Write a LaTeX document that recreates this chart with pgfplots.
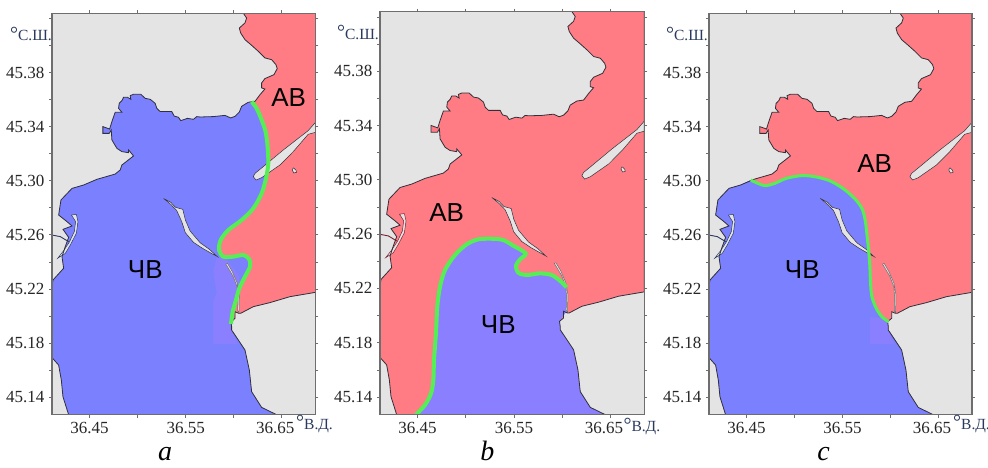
\documentclass[border=0pt]{standalone}
\usepackage{fontspec}
\usepackage{pgfplots}
\usepackage{pgfplotstable}
\pgfplotsset{compat=1.18}
\setmainfont{Liberation Serif}
\newfontfamily\lsans{Liberation Sans}
\definecolor{land}{HTML}{E4E4E4}
\definecolor{cblue}{HTML}{7B80FF}
\definecolor{cpurple}{HTML}{8A80FF}
\definecolor{cred}{HTML}{FF7C85}
\definecolor{cgreen}{HTML}{55EE55}
\definecolor{frame}{HTML}{6E6E6E}
\definecolor{dark}{HTML}{30303A}
\definecolor{navy}{HTML}{2A3A5F}
\definecolor{wine}{HTML}{7A2030}

\pgfplotstableread{
lon lat
36.6100 45.4239
36.6134 45.4204
36.6117 45.4168
36.6058 45.4130
36.6072 45.4093
36.6117 45.4044
36.6186 45.4002
36.6255 45.3958
36.6324 45.3909
36.6394 45.3896
36.6439 45.3859
36.6452 45.3830
36.6418 45.3785
36.6324 45.3756
36.6290 45.3724
36.6290 45.3687
36.6324 45.3679
36.6273 45.3637
36.6221 45.3588
36.6151 45.3581
36.6082 45.3551
36.6058 45.3509
36.6013 45.3477
36.5968 45.3465
36.5909 45.3484
36.5788 45.3475
36.5650 45.3472
36.5615 45.3475
36.5581 45.3455
36.5518 45.3462
36.5449 45.3445
36.5425 45.3470
36.5380 45.3479
36.5356 45.3512
36.5235 45.3512
36.5200 45.3536
36.5183 45.3573
36.5131 45.3603
36.5079 45.3610
36.5034 45.3640
36.4958 45.3640
36.4923 45.3630
36.4930 45.3603
36.4895 45.3618
36.4854 45.3618
36.4837 45.3593
36.4809 45.3573
36.4802 45.3536
36.4837 45.3507
36.4767 45.3507
36.4733 45.3438
36.4709 45.3383
36.4639 45.3401
36.4639 45.3351
36.4705 45.3351
36.4726 45.3376
36.4733 45.3302
36.4785 45.3240
36.4837 45.3216
36.4906 45.3208
36.4906 45.3228
36.4958 45.3184
36.4837 45.3117
36.4819 45.3080
36.4767 45.3050
36.4577 45.3011
36.4439 45.2969
36.4318 45.2944
36.4203 45.2858
36.4179 45.2747
36.4266 45.2698
36.4318 45.2666
36.4224 45.2641
36.4283 45.2582
36.4248 45.2513
36.4214 45.2439
36.4231 45.2353
36.4120 45.2266
36.4110 45.2217
36.4110 45.1692
36.4179 45.1637
36.4207 45.1526
36.4224 45.1403
36.4283 45.1270
36.6446 45.1270
36.6290 45.1324
36.6186 45.1440
36.6162 45.1600
36.6117 45.1748
36.6048 45.1822
36.5978 45.1896
36.5978 45.1921
36.5971 45.1958
36.6013 45.1983
36.6013 45.2032
36.6051 45.2020
36.6072 45.2020
36.6203 45.2069
36.6376 45.2099
36.6584 45.2143
36.6850 45.2175
36.6850 45.4239
}\coast

\pgfplotstableread{
lon lat
36.5269 45.2870
36.5345 45.2841
36.5394 45.2804
36.5470 45.2789
36.5497 45.2710
36.5546 45.2629
36.5650 45.2542
36.5747 45.2493
36.5830 45.2439
36.5736 45.2476
36.5677 45.2500
36.5581 45.2545
36.5497 45.2616
36.5459 45.2698
36.5408 45.2779
36.5345 45.2826
36.5269 45.2870
}\spitC

\pgfplotstableread{
lon lat
36.5916 45.2385
36.5935 45.2389
36.5985 45.2328
36.6037 45.2242
36.6058 45.2155
36.6054 45.2025
36.6040 45.2039
36.6044 45.2143
36.6035 45.2217
36.5992 45.2296
36.5930 45.2370
36.5916 45.2385
}\spitS

\pgfplotstableread{
lon lat
36.4311 45.2747
36.4363 45.2752
36.4380 45.2698
36.4363 45.2611
36.4300 45.2525
36.4248 45.2463
36.4169 45.2427
36.4231 45.2483
36.4293 45.2550
36.4342 45.2624
36.4356 45.2698
36.4328 45.2730
36.4311 45.2747
}\spitW

\pgfplotstableread{
lon lat
36.6850 45.3433
36.6774 45.3371
36.6515 45.3228
36.6307 45.3105
36.6221 45.3055
36.6203 45.3031
36.6231 45.3006
36.6290 45.3023
36.6480 45.3117
36.6619 45.3216
36.6774 45.3344
36.6850 45.3359
}\spitE

\pgfplotstableread{
lon lat
36.6619 45.3097
36.6646 45.3080
36.6653 45.3063
36.6625 45.3058
36.6608 45.3080
36.6619 45.3097
}\isle

\pgfplotstableread{
lon lat
36.4110 45.2599
36.4197 45.2587
36.4283 45.2550
}\wline

% panel a
\pgfplotstableread{
lon lat
36.6186 45.3586
36.6238 45.3536
36.6290 45.3450
36.6331 45.3364
36.6352 45.3253
36.6359 45.3129
36.6335 45.3018
36.6290 45.2907
36.6203 45.2796
36.6082 45.2710
36.5944 45.2636
36.5864 45.2562
36.5847 45.2488
36.5892 45.2439
36.5996 45.2439
36.6100 45.2451
36.6162 45.2419
36.6169 45.2365
36.6117 45.2291
36.6058 45.2205
36.6023 45.2118
36.5989 45.2032
36.5971 45.1941
}\greenA

\pgfplotstableread{
lon lat
36.6100 45.4239
36.6134 45.4204
36.6117 45.4168
36.6058 45.4130
36.6072 45.4093
36.6117 45.4044
36.6186 45.4002
36.6255 45.3958
36.6324 45.3909
36.6394 45.3896
36.6439 45.3859
36.6452 45.3830
36.6418 45.3785
36.6324 45.3756
36.6290 45.3724
36.6290 45.3687
36.6324 45.3679
36.6273 45.3637
36.6221 45.3588
36.6186 45.3586
36.6238 45.3536
36.6290 45.3450
36.6331 45.3364
36.6352 45.3253
36.6359 45.3129
36.6335 45.3018
36.6290 45.2907
36.6203 45.2796
36.6082 45.2710
36.5944 45.2636
36.5864 45.2562
36.5847 45.2488
36.5892 45.2439
36.5996 45.2439
36.6100 45.2451
36.6162 45.2419
36.6169 45.2365
36.6117 45.2291
36.6058 45.2205
36.6023 45.2118
36.5989 45.2032
36.5971 45.1941
36.6013 45.1983
36.6013 45.2032
36.6051 45.2020
36.6072 45.2020
36.6203 45.2069
36.6376 45.2099
36.6584 45.2143
36.6850 45.2175
36.6850 45.4239
}\redA

% panel b
\pgfplotstableread{
lon lat
36.4483 45.1270
36.4576 45.1341
36.4639 45.1427
36.4663 45.1525
36.4670 45.1672
36.4690 45.1869
36.4704 45.2065
36.4732 45.2213
36.4784 45.2336
36.4887 45.2446
36.5008 45.2525
36.5129 45.2562
36.5285 45.2566
36.5388 45.2557
36.5492 45.2515
36.5620 45.2458
36.5561 45.2414
36.5520 45.2368
36.5544 45.2316
36.5630 45.2299
36.5768 45.2311
36.5889 45.2299
36.5976 45.2257
36.6045 45.2208
}\greenB

\pgfplotstableread{
lon lat
36.4483 45.1270
36.4576 45.1341
36.4639 45.1427
36.4663 45.1525
36.4670 45.1672
36.4690 45.1869
36.4704 45.2065
36.4732 45.2213
36.4784 45.2336
36.4887 45.2446
36.5008 45.2525
36.5129 45.2562
36.5285 45.2566
36.5388 45.2557
36.5492 45.2515
36.5620 45.2458
36.5561 45.2414
36.5520 45.2368
36.5544 45.2316
36.5630 45.2299
36.5768 45.2311
36.5889 45.2299
36.5976 45.2257
36.6045 45.2208
36.6054 45.2155
36.6054 45.2040
36.6013 45.2000
36.5971 45.1958
36.5978 45.1921
36.5978 45.1896
36.6048 45.1822
36.6117 45.1748
36.6162 45.1600
36.6186 45.1440
36.6290 45.1324
36.6446 45.1270
}\blueB

% panel c
\pgfplotstableread{
lon lat
36.4544 45.3006
36.4620 45.2981
36.4696 45.2964
36.4794 45.2981
36.4915 45.3018
36.5071 45.3038
36.5210 45.3031
36.5366 45.3001
36.5505 45.2944
36.5626 45.2870
36.5703 45.2796
36.5737 45.2710
36.5758 45.2587
36.5776 45.2463
36.5786 45.2365
36.5793 45.2242
36.5807 45.2143
36.5852 45.2057
36.5911 45.1995
36.5980 45.1958
}\greenC

\pgfplotstableread{
lon lat
36.4544 45.3006
36.4620 45.2981
36.4696 45.2964
36.4794 45.2981
36.4915 45.3018
36.5071 45.3038
36.5210 45.3031
36.5366 45.3001
36.5505 45.2944
36.5626 45.2870
36.5703 45.2796
36.5737 45.2710
36.5758 45.2587
36.5776 45.2463
36.5786 45.2365
36.5793 45.2242
36.5807 45.2143
36.5852 45.2057
36.5911 45.1995
36.5980 45.1958
36.5971 45.1958
36.5978 45.1921
36.5978 45.1896
36.6048 45.1822
36.6117 45.1748
36.6162 45.1600
36.6186 45.1440
36.6290 45.1324
36.6446 45.1270
36.4283 45.1270
36.4224 45.1403
36.4207 45.1526
36.4179 45.1637
36.4110 45.1692
36.4110 45.2217
36.4120 45.2266
36.4231 45.2353
36.4214 45.2439
36.4248 45.2513
36.4283 45.2582
36.4224 45.2641
36.4318 45.2666
36.4266 45.2698
36.4179 45.2747
36.4203 45.2858
36.4318 45.2944
36.4439 45.2969
36.4544 45.3006
}\blueC

\newcommand{\tl}[1]{\mbox{\fontsize{17}{17}\selectfont\rmfamily\color{black!85}#1}}
\pgfplotsset{
  mapaxis/.style={
    scale only axis, anchor=south west, axis on top, no markers,
    xmin=36.411, xmax=36.685, ymin=45.127, ymax=45.4239,
    axis background/.style={fill=land},
    axis line style={draw=frame, line width=1.5pt},
    tick align=outside,
    tick style={draw=frame, line width=0.8pt},
    major tick length=3pt, minor tick length=3pt,
    xtick={36.45,36.55,36.65},
    xticklabels={\tl{36.45},\tl{36.55},\tl{36.65\kern13pt}},
    minor xtick={36.50,36.60},
    ytick={45.14,45.18,45.22,45.26,45.30,45.34,45.38},
    yticklabels={\tl{45.14},\tl{45.18},\tl{45.22},\tl{45.26},\tl{45.30},\tl{45.34},\tl{45.38}},
    minor ytick={45.16,45.20,45.24,45.28,45.32,45.36,45.40,45.42},
    ylabel=, xlabel=,
    y tick label style={xshift=-1pt},
    x tick label style={yshift=-1pt},
  },
  coastline/.style={draw=dark, line width=0.8pt, fill=none},
  spit/.style={fill=land, draw=dark, line width=0.5pt},
  front/.style={draw=cgreen, line width=#1, smooth, fill=none},
}
\newcommand{\wlab}[1]{\node[text=black, font=\lsans\fontsize{26}{26}\selectfont] at #1}
\newcommand{\coord}[1]{\node[text=navy, font=\fontsize{15.5}{16}\selectfont, inner sep=0pt] at #1}
\newcommand{\dg}{\raisebox{0.5pt}{\fontsize{20}{20}\selectfont °}}

\begin{document}
\begin{tikzpicture}[x=1pt,y=1pt]
\path[use as bounding box] (0,0) rectangle (988,467);

% ---------- a
\begin{axis}[mapaxis, at={(52pt,52.3pt)}, width=263.5pt, height=401.4pt]
\addplot[fill=cblue, draw=none] table {\coast};
\addplot[fill=cpurple, draw=none] coordinates {(36.5823,45.2439) (36.5788,45.2328) (36.5823,45.2168) (36.5788,45.2118) (36.5788,45.1793) (36.6037,45.1793) (36.5978,45.1896) (36.5971,45.1941) (36.6023,45.2118) (36.6058,45.2205) (36.6050,45.2300) (36.5900,45.2439)};
\addplot[fill=cred, draw=none] table {\redA};
\addplot[spit] table {\spitC};
\addplot[spit, draw=frame] table {\spitS};
\addplot[spit, draw=navy] table {\spitW};
\addplot[spit] table {\spitE};
\addplot[spit] table {\isle};
\addplot[draw=navy, line width=0.9pt] table {\wline};
\addplot[coastline] table {\coast};
\addplot[front=4pt] table {\greenA};
\end{axis}

% ---------- b
\begin{axis}[mapaxis, at={(380pt,52.3pt)}, width=264.3pt, height=403pt]
\addplot[fill=cred, draw=none] table {\coast};
\addplot[fill=cpurple, draw=none] table {\blueB};
\addplot[spit] table {\spitC};
\addplot[spit, draw=frame] table {\spitS};
\addplot[spit, draw=wine] table {\spitW};
\addplot[spit] table {\spitE};
\addplot[spit] table {\isle};
\addplot[draw=wine, line width=0.9pt] table {\wline};
\addplot[coastline] table {\coast};
\addplot[front=4pt] table {\greenB};
\end{axis}

% ---------- c
\begin{axis}[mapaxis, at={(709pt,52.3pt)}, width=263pt, height=401.4pt]
\addplot[fill=cred, draw=none] table {\coast};
\addplot[fill=cblue, draw=none] table {\blueC};
\addplot[fill=cpurple, draw=none] coordinates {(36.5788,45.1990) (36.5788,45.1793) (36.6037,45.1793) (36.5978,45.1896) (36.5971,45.1958) (36.5900,45.1985)};
\addplot[spit] table {\spitC};
\addplot[spit, draw=frame] table {\spitS};
\addplot[spit, draw=navy] table {\spitW};
\addplot[spit] table {\spitE};
\addplot[spit] table {\isle};
\addplot[draw=navy, line width=0.9pt] table {\wline};
\addplot[coastline] table {\coast};
\addplot[front=3pt] table {\greenC};
\end{axis}

% water-mass labels
\wlab{(288.7,369)} {АВ};
\wlab{(145.3,197)} {ЧВ};
\wlab{(446.7,254)} {АВ};
\wlab{(498.3,142.7)} {ЧВ};
\wlab{(874.7,303.7)} {АВ};
\wlab{(802.3,197)} {ЧВ};

% coordinate captions
\coord{(52,426)} [anchor=base east] {\dg С.Ш.};
\coord{(379,427.7)} [anchor=base east] {\dg С.Ш.};
\coord{(708,426)} [anchor=base east] {\dg С.Ш.};
\coord{(296,38)} [anchor=base west] {\dg В.Д.};
\coord{(623.3,35.3)} [anchor=base west] {\dg В.Д.};
\coord{(953,38)} [anchor=base west] {\dg В.Д.};

% panel letters
\node[anchor=base, inner sep=0pt, font=\itshape\fontsize{28}{28}\selectfont] at (165,7) {a};
\node[anchor=base, inner sep=0pt, font=\itshape\fontsize{28}{28}\selectfont] at (487.3,7) {b};
\node[anchor=base, inner sep=0pt, font=\itshape\fontsize{28}{28}\selectfont] at (823.7,7) {c};
\end{tikzpicture}
\end{document}
